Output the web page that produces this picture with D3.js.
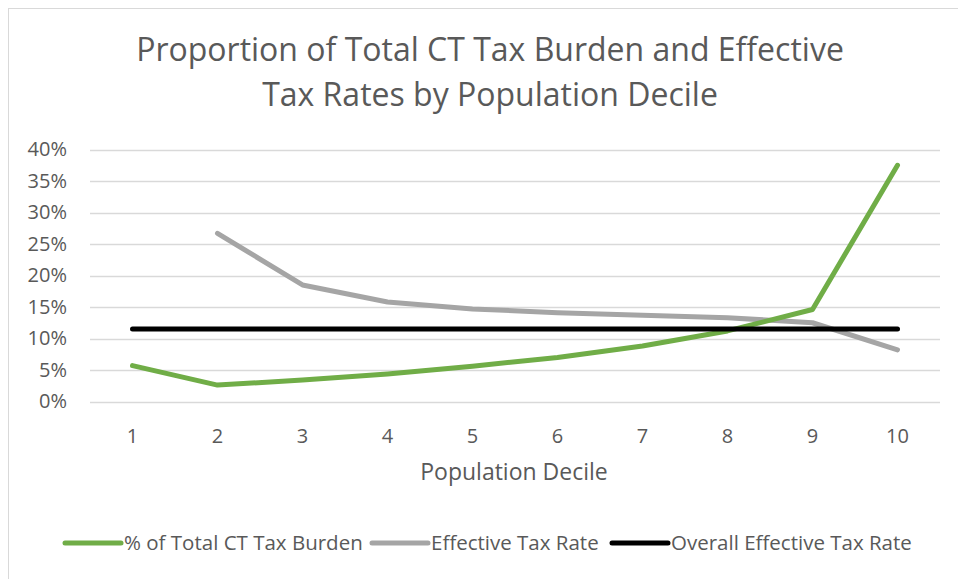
<!DOCTYPE html>
<html>
<head>
<meta charset="utf-8" />
<script src="https://cdn.jsdelivr.net/npm/d3@7"></script>
<style>
	body { margin: 0; background: #fff; }
	svg text { font-family: "Open Sans", Lato, sans-serif; fill: #595959; }
</style>
</head>
<body>
<script>
	// data
	var deciles = [1, 2, 3, 4, 5, 6, 7, 8, 9, 10];
	var burden = [5.7, 2.6, 3.4, 4.35, 5.6, 7.0, 8.8, 11.2, 14.6, 37.5];
	var effective = [null, 26.7, 18.5, 15.8, 14.7, 14.1, 13.7, 13.3, 12.5, 8.2];
	var overall = [11.5, 11.5, 11.5, 11.5, 11.5, 11.5, 11.5, 11.5, 11.5, 11.5];
	var yTicks = [0, 5, 10, 15, 20, 25, 30, 35, 40];
	var seriesNames = ["% of Total CT Tax Burden", "Effective Tax Rate", "Overall Effective Tax Rate"];
	var seriesColors = ["#70ad47", "#a5a5a5", "#000000"];

	var width = 958, height = 579;
	var plotLeft = 90, plotRight = 940, plotTop = 149.5, plotBottom = 401.5;

	var svg = d3.select("body").append("svg")
		.attr("width", width)
		.attr("height", height);

	// chart border (only top/left visible in frame)
	svg.append("rect")
		.attr("x", 8.5).attr("y", 8.5)
		.attr("width", 1000).attr("height", 1000)
		.attr("fill", "none").attr("stroke", "#d9d9d9");

	// title
	var title = svg.append("text")
		.attr("text-anchor", "middle")
		.style("font-size", "32px");
	title.append("tspan").attr("x", 490).attr("y", 61).text("Proportion of Total CT Tax Burden and Effective");
	title.append("tspan").attr("x", 490).attr("y", 105.5).text("Tax Rates by Population Decile");

	var x = d3.scaleBand().domain(deciles).range([plotLeft, plotRight]);
	var y = d3.scaleLinear().domain([0, 40]).range([plotBottom, plotTop]);

	// gridlines
	svg.append("g")
		.selectAll("line")
		.data(yTicks)
		.enter().append("line")
		.attr("x1", plotLeft).attr("x2", plotRight)
		.attr("y1", function(d) { return Math.round(y(d)) + 0.5; })
		.attr("y2", function(d) { return Math.round(y(d)) + 0.5; })
		.attr("stroke", "#d9d9d9")
		.attr("stroke-width", 1.3);

	// y axis labels
	var yAxis = svg.append("g")
		.attr("transform", "translate(" + (plotLeft - 23) + ",0)")
		.call(d3.axisLeft(y).tickValues(yTicks).tickSize(0).tickPadding(0)
			.tickFormat(function(d) { return d + "%"; }));
	yAxis.select(".domain").remove();
	yAxis.selectAll("text").style("font-size", "20px").attr("fill", "#595959");

	// x axis labels
	var xAxis = svg.append("g")
		.attr("transform", "translate(0," + (plotBottom + 27.5) + ")")
		.call(d3.axisBottom(x).tickSize(0).tickPadding(0));
	xAxis.select(".domain").remove();
	xAxis.selectAll("text").style("font-size", "20px").attr("fill", "#595959");

	svg.append("text")
		.attr("x", 514)
		.attr("y", 480)
		.attr("text-anchor", "middle")
		.style("font-size", "23px")
		.text("Population Decile");

	var line = d3.line()
		.defined(function(d) { return d.v != null; })
		.x(function(d) { return x(d.k) + x.bandwidth() / 2; })
		.y(function(d) { return y(d.v); });

	var seriesData = [burden, effective, overall];
	var drawOrder = [1, 0, 2];
	drawOrder.forEach(function(i) {
		var pts = deciles.map(function(k, j) { return { k: k, v: seriesData[i][j] }; });
		svg.append("path")
			.datum(pts)
			.attr("d", line)
			.attr("fill", "none")
			.attr("stroke", seriesColors[i])
			.attr("stroke-width", 5)
			.attr("stroke-linecap", "round")
			.attr("stroke-linejoin", "round");
	});

	// legend
	var legendX = [65, 372, 612];
	var legend = svg.append("g");
	seriesNames.forEach(function(name, i) {
		legend.append("line")
			.attr("x1", legendX[i]).attr("x2", legendX[i] + 56)
			.attr("y1", 543).attr("y2", 543)
			.attr("stroke", seriesColors[i])
			.attr("stroke-width", 5)
			.attr("stroke-linecap", "round");
		legend.append("text")
			.attr("x", legendX[i] + 59)
			.attr("y", 550)
			.style("font-size", "20.5px")
			.text(name);
	});
</script>
</body>
</html>
